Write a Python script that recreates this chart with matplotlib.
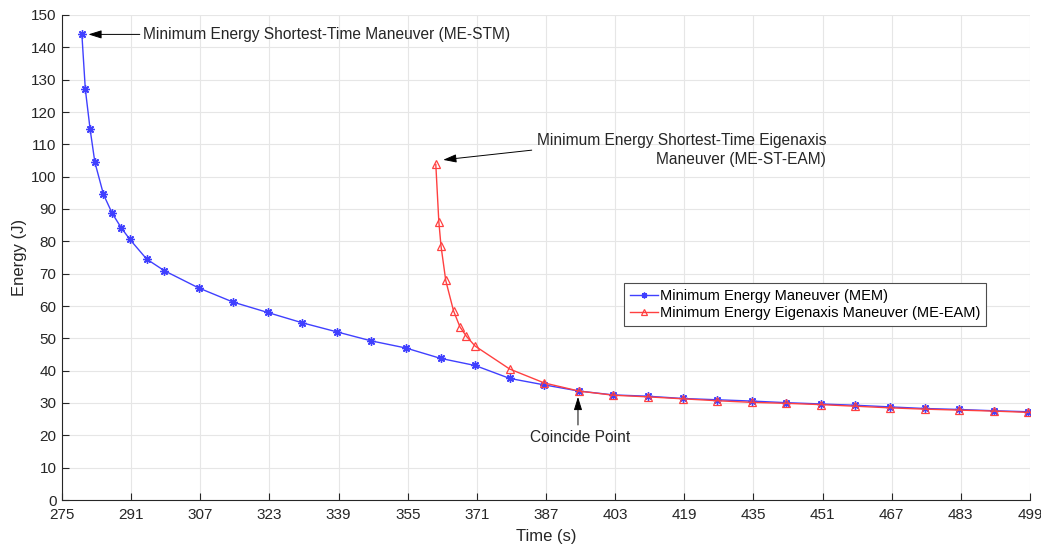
import matplotlib
matplotlib.use("Agg")
import matplotlib.pyplot as plt

plt.rcParams['font.family'] = ['Liberation Sans', 'DejaVu Sans']

# Data
mem_time = [279.6, 280.4, 281.5, 282.6, 284.6, 286.6, 288.7, 290.7, 294.6, 298.7,
            306.6, 314.6, 322.6, 330.6, 338.6, 346.6, 354.6, 362.6, 370.6, 378.6,
            386.6, 394.6, 402.6, 410.6, 418.6, 426.6, 434.6, 442.6, 450.6, 458.6,
            466.6, 474.6, 482.6, 490.6, 498.6]
mem_energy = [144.0, 127.0, 114.7, 104.5, 94.5, 88.7, 84.2, 80.6, 74.5, 70.9,
              65.6, 61.2, 58.0, 54.8, 52.0, 49.2, 47.0, 43.8, 41.6, 37.6,
              35.6, 33.7, 32.5, 32.1, 31.4, 31.0, 30.6, 30.1, 29.7, 29.3,
              28.8, 28.3, 28.0, 27.6, 27.3]

eam_time = [361.5, 362.2, 362.7, 363.8, 365.6, 367.1, 368.6, 370.6, 378.6, 386.6,
            394.6, 402.6, 410.6, 418.6, 426.6, 434.6, 442.6, 450.6, 458.6, 466.6,
            474.6, 482.6, 490.6, 498.6]
eam_energy = [103.8, 86.1, 78.6, 67.9, 58.5, 53.5, 50.6, 47.6, 40.5, 36.2,
              33.7, 32.4, 31.9, 31.3, 30.7, 30.2, 29.9, 29.5, 29.0, 28.5,
              28.1, 27.8, 27.5, 27.1]

x_ticks = list(range(275, 500, 16))
y_ticks = list(range(0, 151, 10))

labels = ["Minimum Energy Maneuver (MEM)", "Minimum Energy Eigenaxis Maneuver (ME-EAM)"]
note_stm = "Minimum Energy Shortest-Time Maneuver (ME-STM)"
note_steam = "Minimum Energy Shortest-Time Eigenaxis\nManeuver (ME-ST-EAM)"
note_coincide = "Coincide Point"

fig = plt.figure(figsize=(10.41, 5.46), dpi=100)
ax = fig.add_axes([62/1041, 46/546, (1030-62)/1041, (500-15)/546])

blue = (0.25, 0.25, 1.0)
red = (1.0, 0.25, 0.25)
ax.plot(mem_time, mem_energy, '-', color=blue, marker=(8, 2, 0), markersize=6,
        markeredgewidth=1.0, linewidth=1.0, label=labels[0], zorder=3)
ax.plot(eam_time, eam_energy, '-', color=red, marker='^', markersize=6,
        markerfacecolor='none', markeredgewidth=0.9, linewidth=1.0, label=labels[1], zorder=3)

ax.set_xlim(275, 499)
ax.set_ylim(0, 150)
ax.set_xticks(x_ticks)
ax.set_yticks(y_ticks)
ax.grid(True, color=(0.9, 0.9, 0.9), linewidth=0.8)
ax.set_axisbelow(True)
for s in ['top', 'right']:
    ax.spines[s].set_visible(False)
spc = (0.15, 0.15, 0.15)
for s in ['left', 'bottom']:
    ax.spines[s].set_color(spc)
    ax.spines[s].set_linewidth(0.8)
ax.tick_params(direction='in', length=5, width=0.8, color=spc, labelsize=11,
               labelcolor=spc)
ax.tick_params(axis='x', pad=6)
ax.tick_params(axis='y', pad=4)
ax.set_xlabel("Time (s)", fontsize=12, color=spc, labelpad=5)
ax.set_ylabel("Energy (J)", fontsize=12, color=spc, labelpad=3)

ann_fs = 11.2
arrow = dict(arrowstyle='-|>,head_length=0.8,head_width=0.25', color='black',
             linewidth=0.7, shrinkA=0, shrinkB=0)
ax.annotate('', xy=(281.1, 144.0), xytext=(293.0, 144.0), arrowprops=arrow)
ax.text(293.7, 144.0, note_stm, ha='left', va='center', fontsize=ann_fs, color=spc)

ax.annotate('', xy=(363.2, 105.2), xytext=(383.7, 108.2), arrowprops=arrow)
ax.text(451.8, 108.2, note_steam, ha='right', va='center', multialignment='right',
        fontsize=ann_fs, color=spc, linespacing=1.3)

ax.annotate('', xy=(394.4, 31.9), xytext=(394.4, 23.2), arrowprops=arrow)
ax.text(394.9, 19.2, note_coincide, ha='center', va='center', fontsize=ann_fs, color=spc)

leg = ax.legend(loc='upper left', bbox_to_anchor=((624-62)/968, (500-283)/485),
                fontsize=10.5, fancybox=False, framealpha=1, edgecolor=(0.3, 0.3, 0.3),
                handlelength=1.9, handletextpad=0.15, borderpad=0.4, labelspacing=0.2,
                borderaxespad=0, markerscale=0.7)
leg.get_frame().set_linewidth(0.8)

fig.savefig("out.png", dpi=100)
